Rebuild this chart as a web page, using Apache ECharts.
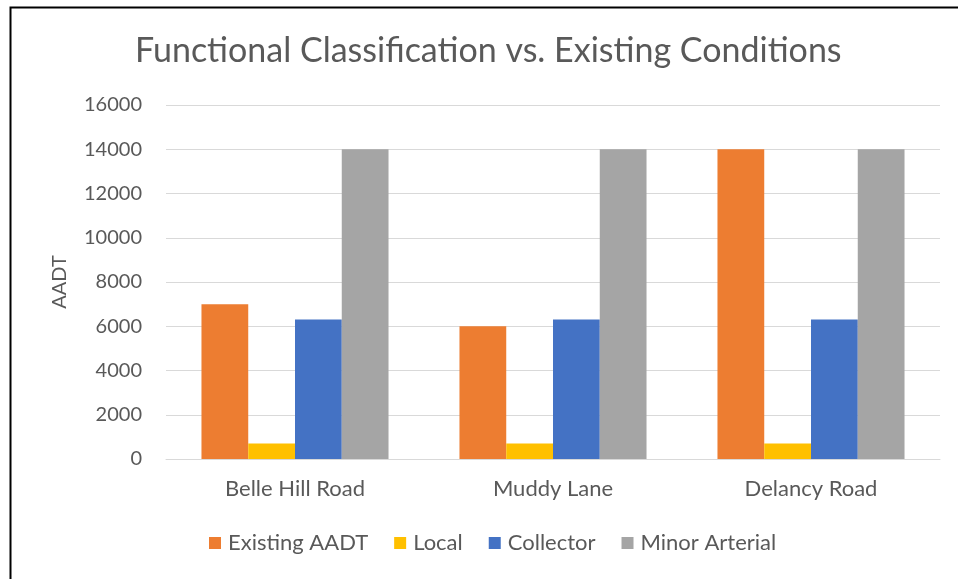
<!DOCTYPE html>
<html><head><meta charset="utf-8">
<script src="https://cdn.jsdelivr.net/npm/echarts@6/dist/echarts.min.js"></script>
<style>html,body{margin:0;padding:0;background:#fff}#c{width:958px;height:579px}</style>
</head><body><div id="c"></div>
<script>
const categories = ['Belle Hill Road', 'Muddy Lane', 'Delancy Road'];
const seriesNames = ['Existing AADT', 'Local', 'Collector', 'Minor Arterial'];
const existingAADT = [7000, 6000, 14000];
const local = [700, 700, 700];
const collector = [6300, 6300, 6300];
const minorArterial = [14000, 14000, 14000];
const colors = ['#ED7D31', '#FFC000', '#4472C4', '#A5A5A5'];
const FONT = 'Lato';
const chart = echarts.init(document.getElementById('c'), null, {renderer: 'canvas'});
const values = [existingAADT, local, collector, minorArterial];
chart.setOption({
  animation: false,
  backgroundColor: '#fff',
  title: {
    text: 'Functional Classification vs. Existing Conditions',
    left: 130, top: 29,
    textStyle: {fontFamily: FONT, fontSize: 34, fontWeight: 'normal', color: '#595959'}
  },
  legend: {
    bottom: 20, left: 204, itemWidth: 12, itemHeight: 12, itemGap: 26,
    icon: 'rect',
    textStyle: {fontFamily: FONT, fontSize: 22, color: '#595959', padding: [0, 0, 0, 2]},
    data: seriesNames
  },
  grid: {left: 166, right: 18, top: 105, bottom: 120, containLabel: false},
  xAxis: {
    type: 'category', data: categories,
    axisLine: {lineStyle: {color: '#D9D9D9', width: 1}},
    axisTick: {show: false},
    axisLabel: {fontFamily: FONT, fontSize: 22, color: '#595959', margin: 19}
  },
  yAxis: {
    type: 'value', min: 0, max: 16000, interval: 2000,
    name: 'AADT', nameLocation: 'middle', nameGap: 96, nameRotate: 90,
    nameTextStyle: {fontFamily: FONT, fontSize: 20, color: '#595959'},
    axisLine: {show: false}, axisTick: {show: false},
    axisLabel: {fontFamily: FONT, fontSize: 20, color: '#595959', margin: 24, formatter: v => String(v)},
    splitLine: {lineStyle: {color: '#D9D9D9', width: 1}}
  },
  series: seriesNames.map((n, i) => ({
    name: n, type: 'bar', data: values[i],
    itemStyle: {color: colors[i]},
    barGap: '0%', barCategoryGap: '27.5%'
  })),
  graphic: [{
    type: 'rect', left: 8, top: 5, silent: true,
    shape: {width: 1200, height: 1200},
    style: {fill: 'none', stroke: '#000', lineWidth: 2}
  }]
});
</script></body></html>
